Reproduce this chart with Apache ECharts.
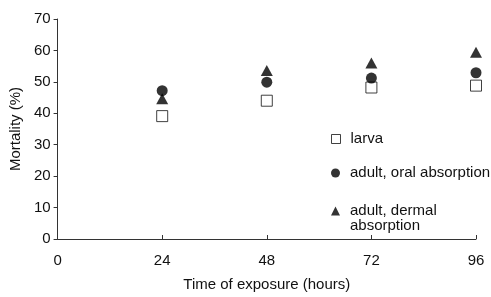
<!DOCTYPE html>
<html>
<head>
<meta charset="utf-8">
<script src="https://cdn.jsdelivr.net/npm/echarts@6/dist/echarts.min.js"></script>
<style>
  html, body { margin: 0; padding: 0; background: #fff; }
  #chart { width: 491px; height: 297px; }
</style>
</head>
<body>
<div id="chart"></div>
<script>
// hours of exposure
var hours = [24, 48, 72, 96];
// mortality (%)
var larva = [39.1, 44, 48.2, 48.8];
var adultOral = [47.2, 49.9, 51.2, 52.9];
var adultDermal = [44.6, 53.6, 56, 59.4];

var names = ['larva', 'adult, oral absorption', 'adult, dermal\nabsorption'];

function pairs(vals) {
  return hours.map(function (h, i) { return [h, vals[i]]; });
}

var chart = echarts.init(document.getElementById('chart'));
var font = 'Liberation Sans, Arial, sans-serif';
var txt = { fontFamily: font, fontSize: 15, color: '#111' };

// one legend per entry so each row can sit where the original has it
function legendAt(top, item) {
  return {
    orient: 'vertical',
    left: 326,
    top: top,
    itemWidth: 9,
    itemHeight: 9,
    selectedMode: false,
    textStyle: { fontFamily: font, fontSize: 15, color: '#111', lineHeight: 15, padding: [0, 0, 0, 5] },
    // blank first line keeps the icon level with the first text line
    formatter: function (name) { return name.indexOf('\n') > -1 ? '\n' + name : name; },
    data: [item]
  };
}

chart.setOption({
  animation: false,
  grid: { left: 55, right: 15, top: 19, bottom: 54 },
  legend: [
    legendAt(126.5, { name: names[0], icon: 'rect', itemStyle: { color: '#fff', borderColor: '#111', borderWidth: 1 } }),
    legendAt(160.5, { name: names[1], icon: 'circle' }),
    legendAt(183.5, { name: names[2], icon: 'triangle' })
  ],
  xAxis: {
    type: 'value',
    min: 0, max: 96, interval: 24,
    name: 'Time of exposure (hours)',
    nameLocation: 'middle',
    nameGap: 38,
    nameTextStyle: txt,
    axisLine: { lineStyle: { color: '#333', width: 1 } },
    axisTick: { inside: true, length: 4, lineStyle: { color: '#333' } },
    axisLabel: { fontFamily: font, fontSize: 15, color: '#111', margin: 14 },
    splitLine: { show: false }
  },
  yAxis: {
    type: 'value',
    min: 0, max: 70, interval: 10,
    name: 'Mortality (%)',
    nameLocation: 'middle',
    nameGap: 30,
    nameTextStyle: txt,
    axisLine: { show: true, lineStyle: { color: '#333', width: 1 } },
    axisTick: { show: true, length: 4, lineStyle: { color: '#333' } },
    axisLabel: { fontFamily: font, fontSize: 15, color: '#111', margin: 7 },
    splitLine: { show: false }
  },
  series: [
    {
      name: names[0], type: 'scatter', symbol: 'rect', symbolSize: 11,
      itemStyle: { color: '#fff', borderColor: '#111', borderWidth: 1 },
      data: pairs(larva)
    },
    {
      name: names[1], type: 'scatter', symbol: 'circle', symbolSize: 11,
      itemStyle: { color: '#000' },
      data: pairs(adultOral)
    },
    {
      name: names[2], type: 'scatter', symbol: 'triangle', symbolSize: [12, 11],
      itemStyle: { color: '#000' },
      data: pairs(adultDermal)
    }
  ]
});
</script>
</body>
</html>
